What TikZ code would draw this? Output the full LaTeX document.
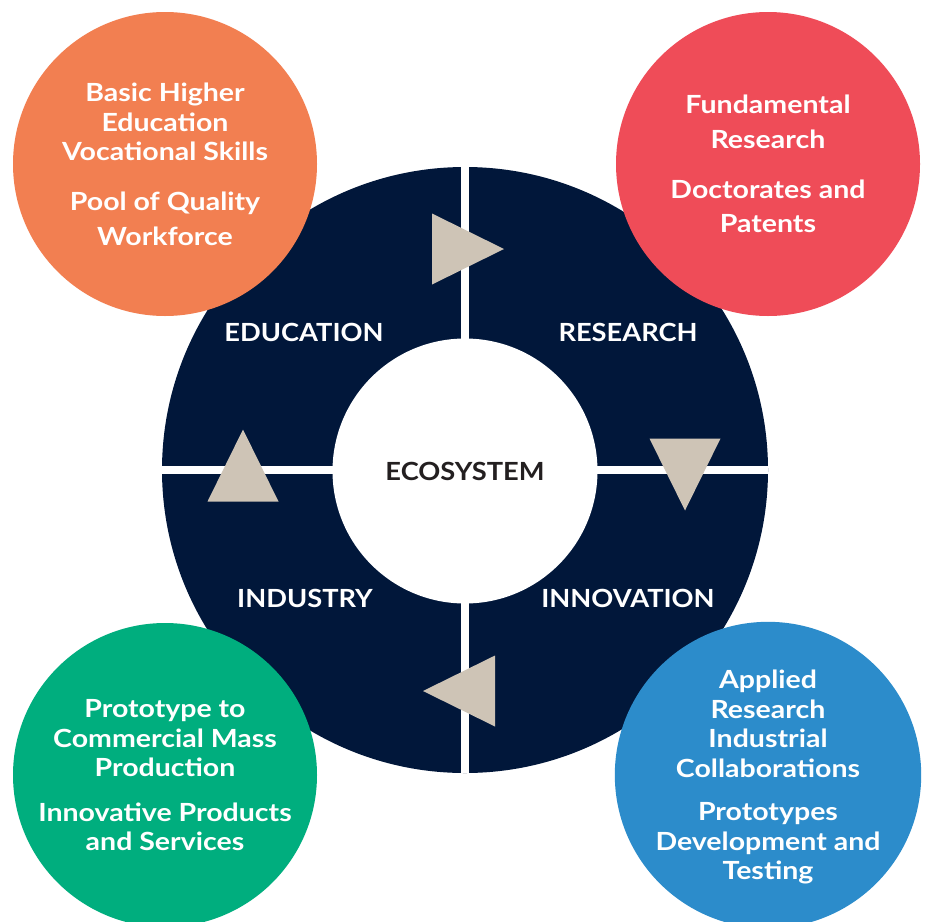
\documentclass[tikz,border=0pt]{standalone}
\usepackage{fontspec}
\setmainfont{Lato}
\newfontfamily\blobfont{Lato}[FakeStretch=1.14]
\newfontfamily\quarterfont{Lato}[FakeStretch=1.09]
\definecolor{navy}{RGB}{1,23,58}
\definecolor{eduorange}{RGB}{242,127,81}
\definecolor{resred}{RGB}{239,76,88}
\definecolor{indgreen}{RGB}{0,174,126}
\definecolor{innblue}{RGB}{44,140,203}
\definecolor{beige}{RGB}{206,196,182}
\definecolor{ecotext}{RGB}{35,31,32}
\tikzset{
pointer/.pic={
  \fill[beige] (-36,-35.5) -- (36,0) -- (-36,35.5) -- cycle;
  },
blob/.style={circle, minimum size=304pt, inner sep=0pt, text=white, align=center,
  text depth=0pt, font=\blobfont\fontsize{25}{29.5}\selectfont\bfseries},
quarter/.style={text=white, font=\quarterfont\fontsize{25}{30}\selectfont\bfseries}
}
\begin{document}
\begin{tikzpicture}[x=1pt,y=-1pt]
\useasboundingbox[fill=white] (0,0) rectangle (928,921);
\node[circle, fill=navy, minimum size=606pt, inner sep=0pt] (ring) at (465,470) {};
\draw[white, line width=8pt] (ring.north) -- (ring.south);
\draw[white, line width=8pt] (ring.west) -- (ring.east);
\node[circle, fill=white, minimum size=265pt, inner sep=0pt, text=ecotext,
  font=\quarterfont\fontsize{25}{30}\selectfont\bfseries] (eco) at (465,471) {ECOSYSTEM};
\node[quarter] (edu) at (304,332) {EDUCATION};
\node[quarter] (res) at (628,332) {RESEARCH};
\node[quarter] (ind) at (305,598) {INDUSTRY};
\node[quarter] (inn) at (628,598) {INNOVATION};
\pic at (468,249) {pointer};
\pic[rotate=-90] at (685,474.5) {pointer};
\pic[rotate=180] at (459,691) {pointer};
\pic[rotate=90] at (243,465.5) {pointer};
\node[blob, fill=eduorange] (basic) at (165,164)
  {Basic Higher\\Education\\Vocational Skills\\[20.5pt]Pool of Quality\\[5pt]Workforce};
\node[blob, fill=resred] (fund) at (768,164)
  {Fundamental\\[5.5pt]Research\\[20pt]Doctorates and\\[5pt]Patents};
\node[blob, fill=indgreen] (proto) at (165,775)
  {Prototype to\\Commercial Mass\\Production\\[15pt]Innovative Products\\and Services};
\node[blob, fill=innblue] (applied) at (768,775)
  {Applied\\Research\\Industrial\\Collaborations\\[14pt]Prototypes\\Development and\\Testing};
\end{tikzpicture}
\end{document}
